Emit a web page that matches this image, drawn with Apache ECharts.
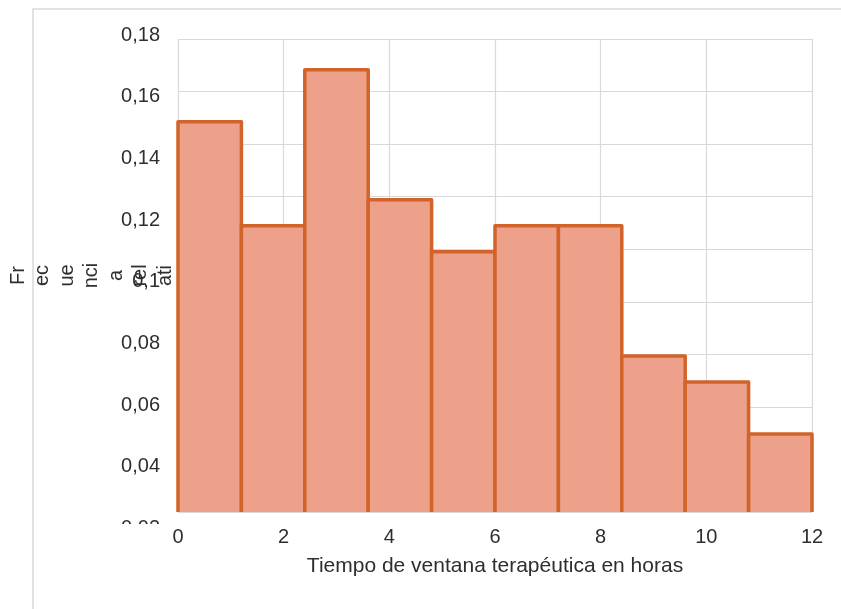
<!DOCTYPE html>
<html><head><meta charset="utf-8">
<script src="https://cdn.jsdelivr.net/npm/echarts@6/dist/echarts.min.js"></script>
<style>html,body{margin:0;padding:0;background:#fff}#c{width:841px;height:609px}</style>
</head><body><div id="c"></div>
<script>
// Histogram bins (hours) and relative frequencies
const binStart = [0, 1.2, 2.4, 3.6, 4.8, 6.0, 7.2, 8.4, 9.6, 10.8];
const binEnd   = [1.2, 2.4, 3.6, 4.8, 6.0, 7.2, 8.4, 9.6, 10.8, 12];
const relFreq  = [0.1485, 0.1089, 0.1683, 0.1188, 0.0990, 0.1089, 0.1089, 0.0594, 0.0495, 0.0297];
const xTickLabels = ['0', '2', '4', '6', '8', '10', '12'];
const yTickLabels = ['0', '0,02', '0,04', '0,06', '0,08', '0,1', '0,12', '0,14', '0,16', '0,18'];
const xTitle = 'Tiempo de ventana terapéutica en horas';
const yTitleLines = ['Fr', 'ec', 'ue', 'nci', 'a', 'rel', 'ati', 'va'];

const FONT = 'Liberation Sans, Arial, sans-serif';
const TXT = '#2e2e2e';
const GRID = '#d9d9d9';
const FILL = '#eda18a';
const STROKE = '#d2632b';

const chart = echarts.init(document.getElementById('c'), null, {renderer: 'canvas'});
const data = binStart.map((s, i) => [s, binEnd[i], relFreq[i]]);

chart.setOption({
  animation: false,
  backgroundColor: '#ffffff',
  textStyle: {fontFamily: FONT, color: TXT},
  grid: [
    {left: 178, right: 29, top: 39, bottom: 97, containLabel: false, outerBoundsMode: 'none'},
    {left: 178, right: 29, top: 35, height: 555, containLabel: false, outerBoundsMode: 'none'}
  ],
  xAxis: [
    {
      type: 'value', gridIndex: 0, min: 0, max: 12, interval: 2,
      axisLine: {show: false}, axisTick: {show: false},
      splitLine: {show: true, lineStyle: {color: GRID, width: 1.2}},
      axisLabel: {fontSize: 20, color: TXT, fontFamily: FONT, margin: 15,
        formatter: v => xTickLabels[Math.round(v / 2)] ?? ''},
      name: xTitle, nameLocation: 'middle', nameGap: 44,
      nameTextStyle: {fontSize: 21, color: TXT, fontFamily: FONT}
    },
    {type: 'value', gridIndex: 1, min: 0, max: 12, show: false}
  ],
  yAxis: [
    {
      type: 'value', gridIndex: 0, min: 0, max: 0.18, interval: 0.02,
      axisLine: {show: false}, axisTick: {show: false},
      axisLabel: {show: false},
      splitLine: {show: true, lineStyle: {color: GRID, width: 1.2}},
      name: yTitleLines.join('\n'), nameLocation: 'middle', nameGap: -24, nameRotate: 90,
      nameTextStyle: {fontSize: 20, color: TXT, fontFamily: FONT, lineHeight: 24.5}
    },
    {
      type: 'value', gridIndex: 1, min: 0, max: 0.18, interval: 0.02,
      axisLine: {show: false}, axisTick: {show: false}, splitLine: {show: false},
      axisLabel: {fontSize: 20, color: TXT, fontFamily: FONT, margin: 18,
        formatter: v => yTickLabels[Math.round(v / 0.02)] ?? ''}
    }
  ],
  graphic: [
    {type: 'rect', z: 100, shape: {x: 85, y: 524, width: 83, height: 85}, style: {fill: '#ffffff'}},
    {type: 'rect', z: 100, shape: {x: 33, y: 9, width: 900, height: 700}, style: {fill: null, stroke: '#d9d9d9', lineWidth: 1.5}}
  ],
  series: [{
    type: 'custom',
    xAxisIndex: 0, yAxisIndex: 0,
    data: data,
    encode: {x: [0, 1], y: 2},
    renderItem: function (params, api) {
      const x0 = api.value(0), x1 = api.value(1), v = api.value(2);
      const p0 = api.coord([x0, 0]);
      const p1 = api.coord([x1, v]);
      return {
        type: 'group',
        children: [
          {type: 'rect', shape: {x: p0[0], y: p1[1], width: p1[0] - p0[0], height: p0[1] - p1[1]}, style: {fill: FILL}},
          {type: 'polyline', shape: {points: [[p0[0], p0[1]], [p0[0], p1[1]], [p1[0], p1[1]], [p1[0], p0[1]]]},
            style: {fill: null, stroke: STROKE, lineWidth: 3.5, lineJoin: 'round'}}
        ]
      };
    }
  }]
});
</script>
</body></html>
